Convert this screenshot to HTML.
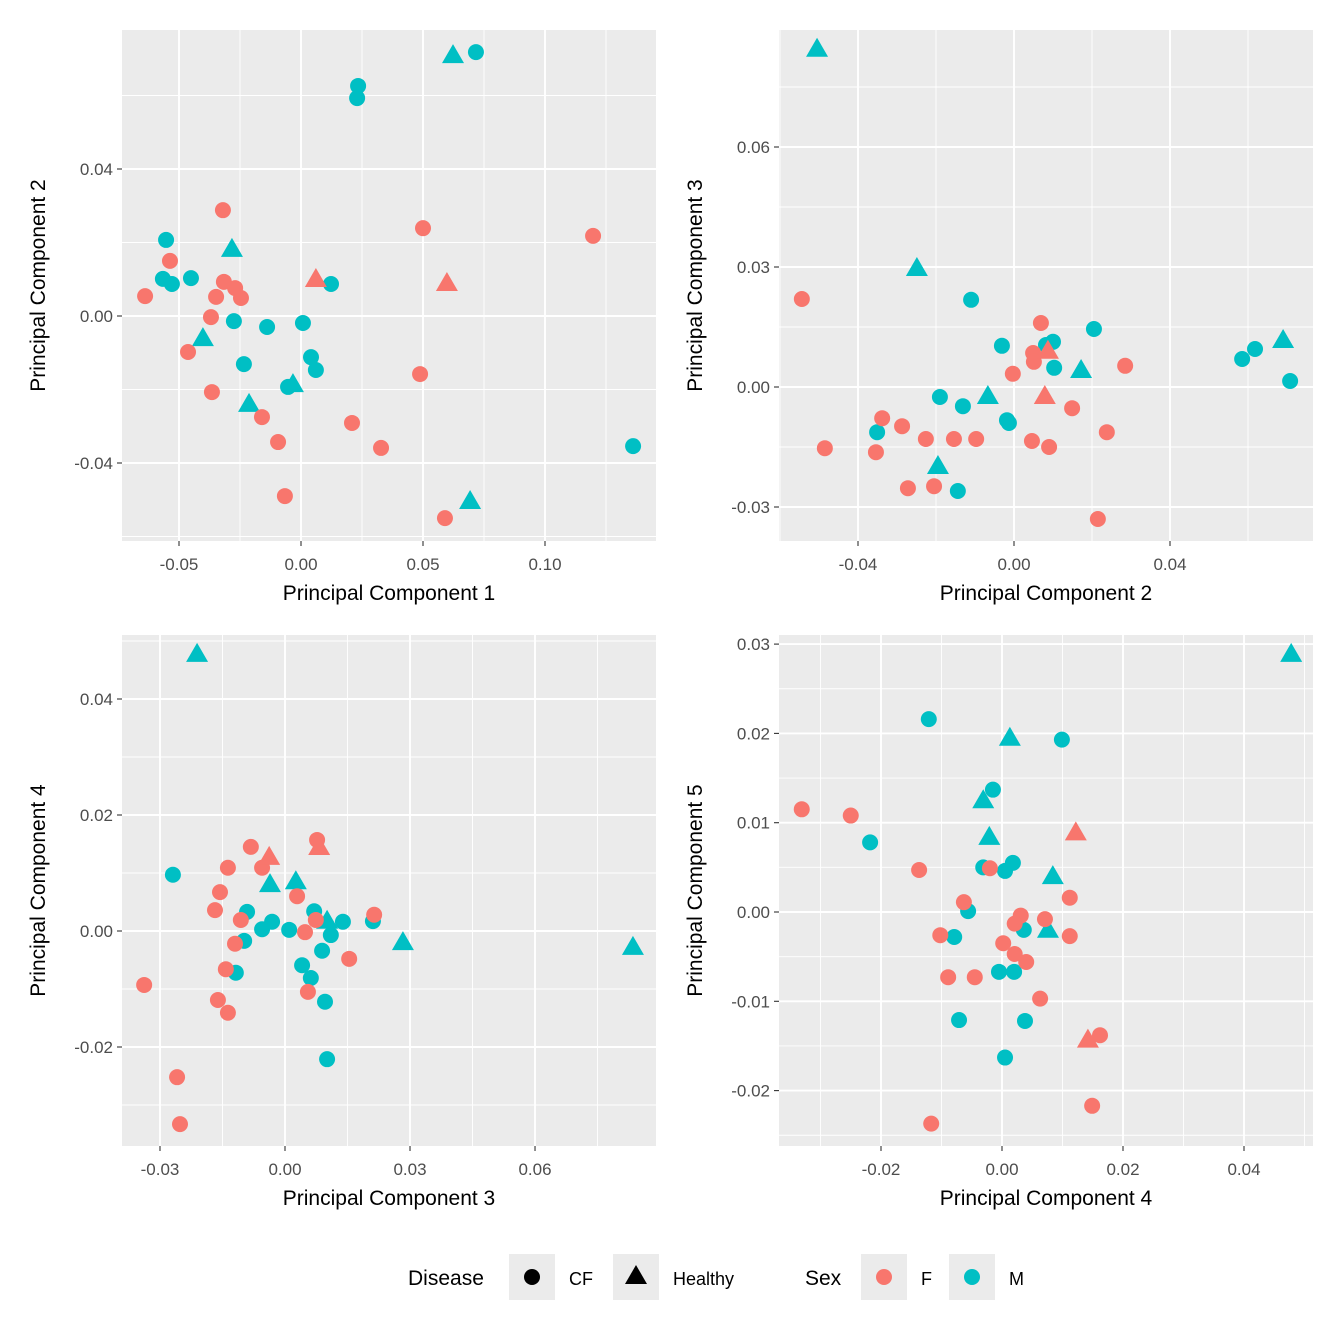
<!DOCTYPE html>
<html><head><meta charset="utf-8"><style>
body{margin:0;background:#fff}
svg{display:block;font-family:"Liberation Sans",Arial,sans-serif}
</style></head><body>
<svg id="chart" width="1344" height="1344" viewBox="0 0 1344 1344"></svg>
<script>
// Panel 1: PC1 vs PC2
const p1_MCF_x=[0.0717,0.0234,0.0230,-0.0553,-0.0566,-0.0529,-0.0451,0.0123,-0.0275,-0.0139,0.0008,0.0041,0.0061,-0.0234,-0.0053,0.1361];
const p1_MCF_y=[0.0718,0.0626,0.0593,0.0207,0.0101,0.0087,0.0103,0.0087,-0.0014,-0.0030,-0.0019,-0.0112,-0.0147,-0.0131,-0.0193,-0.0354];
const p1_MH_x=[0.0623,-0.0283,-0.0402,-0.0033,-0.0213,0.0693];
const p1_MH_y=[0.0707,0.0180,-0.0063,-0.0188,-0.0242,-0.0506];
const p1_FCF_x=[-0.0320,0.0500,0.1197,-0.0537,-0.0639,-0.0316,-0.0270,-0.0348,-0.0246,-0.0369,-0.0463,-0.0365,0.0488,-0.0160,-0.0094,0.0209,0.0328,-0.0066,0.0590];
const p1_FCF_y=[0.0288,0.0239,0.0218,0.0150,0.0054,0.0093,0.0076,0.0052,0.0049,-0.0003,-0.0098,-0.0207,-0.0158,-0.0275,-0.0343,-0.0291,-0.0359,-0.0490,-0.0550];
const p1_FH_x=[0.0061,0.0598];
const p1_FH_y=[0.0098,0.0087];
const p1_xTicks=[-0.05,0,0.05,0.10];const p1_xLabels=["-0.05","0.00","0.05","0.10"];
const p1_yTicks=[0.04,0,-0.04];const p1_yLabels=["0.04","0.00","-0.04"];
// Panel 2: PC2 vs PC3
const p2_MCF_x=[-0.0110,-0.0031,0.0205,0.0100,0.0103,0.0082,0.0585,0.0618,0.0708,-0.0190,-0.0131,-0.0018,-0.0013,-0.0351,-0.0144];
const p2_MCF_y=[0.0218,0.0103,0.0145,0.0113,0.0048,0.0105,0.0070,0.0095,0.0015,-0.0025,-0.0048,-0.0083,-0.0090,-0.0113,-0.0260];
const p2_MH_x=[-0.0505,-0.0249,0.0690,0.0172,-0.0067,-0.0195];
const p2_MH_y=[0.0843,0.0295,0.0115,0.0040,-0.0025,-0.0200];
const p2_FCF_x=[-0.0544,0.0069,0.0049,0.0051,-0.0003,0.0285,0.0149,-0.0338,-0.0287,-0.0354,-0.0485,-0.0226,-0.0154,-0.0097,0.0046,0.0090,0.0238,-0.0272,-0.0205,0.0215];
const p2_FCF_y=[0.0220,0.0160,0.0085,0.0063,0.0033,0.0053,-0.0053,-0.0078,-0.0098,-0.0163,-0.0153,-0.0130,-0.0130,-0.0130,-0.0135,-0.0150,-0.0113,-0.0253,-0.0248,-0.0330];
const p2_FH_x=[0.0079,0.0087];
const p2_FH_y=[-0.0025,0.0088];
const p2_xTicks=[-0.04,0,0.04];const p2_xLabels=["-0.04","0.00","0.04"];
const p2_yTicks=[0.06,0.03,0,-0.03];const p2_yLabels=["0.06","0.03","0.00","-0.03"];
// Panel 3: PC3 vs PC4
const p3_MCF_x=[-0.0269,-0.0091,-0.0031,-0.0055,-0.0098,0.0010,0.0070,0.0139,0.0211,0.0110,0.0089,0.0041,0.0062,-0.0118,0.0096,0.0101];
const p3_MCF_y=[0.0097,0.0033,0.0016,0.0003,-0.0017,0.0002,0.0034,0.0016,0.0017,-0.0007,-0.0034,-0.0059,-0.0081,-0.0072,-0.0122,-0.0221];
const p3_MH_x=[-0.0211,0.0835,0.0283,-0.0036,0.0026,0.0101];
const p3_MH_y=[0.0476,-0.0029,-0.0021,0.0079,0.0084,0.0016];
const p3_FCF_x=[0.0077,-0.0082,-0.0137,-0.0055,-0.0156,-0.0168,0.0029,-0.0106,0.0214,0.0048,0.0074,-0.0120,0.0154,-0.0142,0.0055,-0.0161,-0.0137,-0.0338,-0.0259,-0.0252];
const p3_FCF_y=[0.0157,0.0145,0.0109,0.0109,0.0067,0.0036,0.0060,0.0019,0.0028,-0.0002,0.0019,-0.0022,-0.0048,-0.0066,-0.0105,-0.0119,-0.0141,-0.0093,-0.0252,-0.0333];
const p3_FH_x=[-0.0038,0.0082];
const p3_FH_y=[0.0126,0.0143];
const p3_xTicks=[-0.03,0,0.03,0.06];const p3_xLabels=["-0.03","0.00","0.03","0.06"];
const p3_yTicks=[0.04,0.02,0,-0.02];const p3_yLabels=["0.04","0.02","0.00","-0.02"];
// Panel 4: PC4 vs PC5
const p4_MCF_x=[-0.0121,0.0099,-0.0015,-0.0218,-0.0031,0.0018,0.0005,-0.0056,-0.0079,0.0036,-0.0005,0.0020,-0.0071,0.0038,0.0005];
const p4_MCF_y=[0.0216,0.0193,0.0137,0.0078,0.0050,0.0055,0.0046,0.0001,-0.0028,-0.0020,-0.0067,-0.0067,-0.0121,-0.0122,-0.0163];
const p4_MH_x=[0.0478,0.0013,-0.0031,-0.0021,0.0084,0.0076];
const p4_MH_y=[0.0288,0.0194,0.0124,0.0083,0.0039,-0.0021];
const p4_FCF_x=[-0.0331,-0.0250,-0.0137,-0.0020,-0.0063,0.0112,0.0031,0.0021,0.0071,-0.0102,0.0002,0.0112,0.0021,0.0040,-0.0089,-0.0045,0.0063,0.0162,0.0149,-0.0117];
const p4_FCF_y=[0.0115,0.0108,0.0047,0.0049,0.0011,0.0016,-0.0004,-0.0013,-0.0008,-0.0026,-0.0035,-0.0027,-0.0047,-0.0056,-0.0073,-0.0073,-0.0097,-0.0138,-0.0217,-0.0237];
const p4_FH_x=[0.0122,0.0142];
const p4_FH_y=[0.0088,-0.0144];
const p4_xTicks=[-0.02,0,0.02,0.04];const p4_xLabels=["-0.02","0.00","0.02","0.04"];
const p4_yTicks=[0.03,0.02,0.01,0,-0.01,-0.02];const p4_yLabels=["0.03","0.02","0.01","0.00","-0.01","-0.02"];

const NS="http://www.w3.org/2000/svg";
const svg=document.getElementById('chart');
const RED="#F8766D",CYAN="#00BFC4";
function mk(tag,attrs,parent){const e=document.createElementNS(NS,tag);for(const k in attrs)e.setAttribute(k,attrs[k]);(parent||svg).appendChild(e);return e;}

const panels=[
 {id:1,L:122,T:30,R:656,B:541,x0:301,xs:2440,y0:316,ys:3675,xStep:0.05,yStep:0.04,xt:p1_xTicks,xl:p1_xLabels,yt:p1_yTicks,yl:p1_yLabels,xTitle:"Principal Component 1",yTitle:"Principal Component 2",
  g:[[p1_MCF_x,p1_MCF_y,CYAN,0],[p1_MH_x,p1_MH_y,CYAN,1],[p1_FCF_x,p1_FCF_y,RED,0],[p1_FH_x,p1_FH_y,RED,1]]},
 {id:2,L:779,T:30,R:1313,B:541,x0:1014,xs:3900,y0:387,ys:4000,xStep:0.04,yStep:0.03,xt:p2_xTicks,xl:p2_xLabels,yt:p2_yTicks,yl:p2_yLabels,xTitle:"Principal Component 2",yTitle:"Principal Component 3",
  g:[[p2_MCF_x,p2_MCF_y,CYAN,0],[p2_MH_x,p2_MH_y,CYAN,1],[p2_FCF_x,p2_FCF_y,RED,0],[p2_FH_x,p2_FH_y,RED,1]]},
 {id:3,L:122,T:635,R:656,B:1146,x0:285,xs:4167,y0:931,ys:5800,xStep:0.03,yStep:0.02,xt:p3_xTicks,xl:p3_xLabels,yt:p3_yTicks,yl:p3_yLabels,xTitle:"Principal Component 3",yTitle:"Principal Component 4",
  g:[[p3_MCF_x,p3_MCF_y,CYAN,0],[p3_MH_x,p3_MH_y,CYAN,1],[p3_FCF_x,p3_FCF_y,RED,0],[p3_FH_x,p3_FH_y,RED,1]]},
 {id:4,L:779,T:635,R:1313,B:1146,x0:1002,xs:6050,y0:912,ys:8930,xStep:0.02,yStep:0.01,xt:p4_xTicks,xl:p4_xLabels,yt:p4_yTicks,yl:p4_yLabels,xTitle:"Principal Component 4",yTitle:"Principal Component 5",
  g:[[p4_MCF_x,p4_MCF_y,CYAN,0],[p4_MH_x,p4_MH_y,CYAN,1],[p4_FCF_x,p4_FCF_y,RED,0],[p4_FH_x,p4_FH_y,RED,1]]}
];

panels.forEach(p=>{
 const X=v=>p.x0+v*p.xs, Y=v=>p.y0-v*p.ys;
 const g=mk('g',{});
 
 
 const bg=mk('rect',{x:p.L,y:p.T,width:p.R-p.L,height:p.B-p.T,fill:'#EBEBEB'},g);
 
 
 for(let k=-10;k<=10;k++){
  const vx=(k+0.5)*p.xStep, px=X(vx);
  if(px>p.L&&px<p.R){const l=mk('line',{x1:px,x2:px,y1:p.T,y2:p.B,stroke:'#fff','stroke-width':0.9},g);}
  const vy=(k+0.5)*p.yStep, py=Y(vy);
  if(py>p.T&&py<p.B){const l=mk('line',{x1:p.L,x2:p.R,y1:py,y2:py,stroke:'#fff','stroke-width':0.9},g);}
 }
 p.xt.forEach((v,i)=>{
  const px=X(v);
  const l=mk('line',{x1:px,x2:px,y1:p.T,y2:p.B,stroke:'#fff','stroke-width':1.9},g);
  
  const t=mk('line',{x1:px,x2:px,y1:p.B,y2:p.B+5,stroke:'#333','stroke-width':1.1},g);
  
  const tx=mk('text',{x:px,y:p.B+29,'text-anchor':'middle','font-size':17,fill:'#4D4D4D'},g);
  tx.textContent=p.xl[i];
  
 });
 p.yt.forEach((v,i)=>{
  const py=Y(v);
  const l=mk('line',{x1:p.L,x2:p.R,y1:py,y2:py,stroke:'#fff','stroke-width':1.9},g);
  
  const t=mk('line',{x1:p.L-5,x2:p.L,y1:py,y2:py,stroke:'#333','stroke-width':1.1},g);
  
  const tx=mk('text',{x:p.L-9,y:py+6,'text-anchor':'end','font-size':17,fill:'#4D4D4D'},g);
  tx.textContent=p.yl[i];
  
 });
 const xt=mk('text',{x:(p.L+p.R)/2,y:p.B+59,'text-anchor':'middle','font-size':21,fill:'#000'},g);
 xt.textContent=p.xTitle;
 
 const cy=(p.T+p.B)/2, cx=p.L-77;
 const yt=mk('text',{x:cx,y:cy,'text-anchor':'middle','font-size':21,fill:'#000',transform:`rotate(-90 ${cx} ${cy})`},g);
 yt.textContent=p.yTitle;
 
 p.g.forEach(([xs,ys,col,tri])=>{
  xs.forEach((v,i)=>{
   const px=X(v),py=Y(ys[i]);
   let m;
   if(tri){m=mk('polygon',{points:`${px},${py-12} ${px-11},${py+7} ${px+11},${py+7}`,fill:col},g);}
   else{m=mk('circle',{cx:px,cy:py,r:8,fill:col},g);}
   
   
  });
 });
});

const lg=mk('g',{});


function lt(x,txt,size,name){const t=mk('text',{x:x,y:1285,'font-size':size,fill:'#000'},lg);t.textContent=txt;}
function key(x,name){const r=mk('rect',{x:x,y:1254,width:46,height:46,fill:'#EBEBEB'},lg);}
lt(408,'Disease',21,'legend-title-disease');
key(509,'legend-key-cf');
let c=mk('circle',{cx:532,cy:1277,r:8,fill:'#000'},lg);
lt(569,'CF',18,'legend-label-cf');
key(613,'legend-key-healthy');
c=mk('polygon',{points:'636,1265 625,1284 647,1284',fill:'#000'},lg);
lt(673,'Healthy',18,'legend-label-healthy');
lt(805,'Sex',21,'legend-title-sex');
key(861,'legend-key-f');
c=mk('circle',{cx:884,cy:1277,r:8,fill:RED},lg);
lt(921,'F',18,'legend-label-f');
key(949,'legend-key-m');
c=mk('circle',{cx:972,cy:1277,r:8,fill:CYAN},lg);
lt(1009,'M',18,'legend-label-m');
</script>
</body></html>
